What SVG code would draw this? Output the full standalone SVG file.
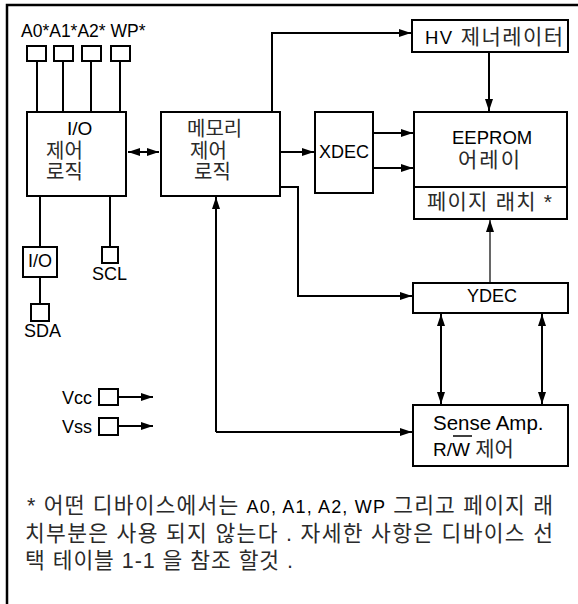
<svg xmlns="http://www.w3.org/2000/svg" width="578" height="604" viewBox="0 0 578 604">
<defs>
<style>
.box{fill:#fff;stroke:#000;stroke-width:2}
.ln{fill:none;stroke:#000;stroke-width:2}
.thin{fill:none;stroke:#000;stroke-width:1.2}
.t{font-family:"Liberation Sans","Noto Sans CJK KR",Arial,sans-serif;font-size:18px;fill:#000}
.k{font-family:"Liberation Sans","Noto Sans CJK KR",sans-serif;font-size:20px;fill:#2a2a2a}
.f{font-size:21.5px}
</style>
<marker id="ah" viewBox="0 0 12 8" refX="12" refY="4" markerWidth="12" markerHeight="8" orient="auto-start-reverse" markerUnits="userSpaceOnUse"><path d="M0,0 L12,4 L0,8 z" fill="#000"/></marker>
</defs>
<rect width="578" height="604" fill="#fff"/>
<path d="M7,604 V5 H578" fill="none" stroke="#000" stroke-width="2.5"/>

<g id="pins">
<text class="t" x="21" y="37" style="font-size:17.5px">A0*A1*A2* WP*</text>
<rect class="box" x="27" y="46" width="19" height="15"/>
<rect class="box" x="54" y="46" width="19" height="15"/>
<rect class="box" x="82" y="46" width="19" height="15"/>
<rect class="box" x="111" y="46" width="19" height="15"/>
</g>

<g id="connectors">
<path class="ln" d="M37,61 V112 M63,61 V112 M91,61 V112 M120,61 V112"/>
<path class="ln" d="M40,196 V247 M40,277 V304 M110,196 V247"/>
<path class="ln" d="M128,152 H159" marker-start="url(#ah)" marker-end="url(#ah)"/>
<path class="ln" d="M281,152 H314" marker-end="url(#ah)"/>
<path class="ln" d="M272,112 V33 H411" marker-end="url(#ah)"/>
<path class="ln" d="M489,52 V111" marker-end="url(#ah)"/>
<path class="ln" d="M373,133 H413" marker-end="url(#ah)"/>
<path class="ln" d="M373,168 H413" marker-end="url(#ah)"/>
<path class="ln" d="M281,187 H298 V296 H412" marker-end="url(#ah)"/>
<path class="thin" d="M490,283 V220" marker-end="url(#ah)"/>
<path class="ln" d="M441,314 V404" marker-start="url(#ah)" marker-end="url(#ah)"/>
<path class="ln" d="M542,314 V404" marker-start="url(#ah)" marker-end="url(#ah)"/>
<path class="ln" d="M216,432 H412" marker-end="url(#ah)"/>
<path class="ln" d="M216,432 V197" marker-end="url(#ah)"/>
<path class="ln" d="M118,397 H153" marker-end="url(#ah)"/>
<path class="ln" d="M118,426 H153" marker-end="url(#ah)"/>
</g>

<g id="io-logic">
<rect class="box" x="27" y="112" width="99" height="84"/>
<text class="t" x="67" y="135" style="font-size:19px">I/O</text>
<text class="k" x="46" y="158">제어</text>
<text class="k" x="46" y="179">로직</text>
</g>

<g id="memory-logic">
<rect class="box" x="161" y="112" width="119" height="84"/>
<text class="k" x="187" y="136">메모리</text>
<text class="k" x="190" y="158">제어</text>
<text class="k" x="194" y="179">로직</text>
</g>

<g id="hv">
<rect class="box" x="412" y="20" width="156" height="32"/>
<text class="k" x="425" y="44" style="font-size:21px" textLength="138" lengthAdjust="spacing"><tspan style="fill:#000;font-size:18.5px">HV</tspan> 제너레이터</text>
</g>

<g id="xdec">
<rect class="box" x="315" y="112" width="58" height="81"/>
<text class="t" x="319" y="158">XDEC</text>
</g>

<g id="eeprom">
<rect class="box" x="414" y="112" width="153" height="107"/>
<line class="ln" x1="414" y1="187" x2="567" y2="187"/>
<text class="t" x="452" y="144" style="font-size:18.5px">EEPROM</text>
<text class="k" x="458" y="167" style="font-size:21px" textLength="62" lengthAdjust="spacing">어레이</text>
<text class="k" x="427" y="209" style="font-size:21px" textLength="125" lengthAdjust="spacing">페이지 래치 *</text>
</g>

<g id="ydec">
<rect class="box" x="413" y="283" width="155" height="30"/>
<text class="t" x="467" y="302">YDEC</text>
</g>

<g id="sense-amp">
<rect class="box" x="413" y="405" width="155" height="61"/>
<text class="t" x="433" y="430" style="font-size:20.5px">Sense Amp.</text>
<text class="t" x="433" y="456" style="font-size:19px">R/W <tspan class="k" style="font-size:21px">제어</tspan></text>
<line x1="453" y1="436" x2="472" y2="436" stroke="#000" stroke-width="1.5"/>
</g>

<g id="io-pin">
<rect class="box" x="23" y="247" width="34" height="30"/>
<text class="t" x="40" y="267" text-anchor="middle">I/O</text>
</g>

<g id="sda">
<rect class="box" x="31" y="304" width="18" height="17"/>
<text class="t" x="24" y="337">SDA</text>
</g>

<g id="scl">
<rect class="box" x="102" y="247" width="16" height="16"/>
<text class="t" x="92" y="280">SCL</text>
</g>

<g id="vcc">
<text class="t" x="62" y="404">Vcc</text>
<rect class="box" x="99" y="389" width="19" height="16"/>
</g>
<g id="vss">
<text class="t" x="62" y="433">Vss</text>
<rect class="box" x="99" y="418" width="19" height="17"/>
</g>

<g id="footnote">
<text class="k f" x="27" y="513" textLength="526" lengthAdjust="spacing">* 어떤 디바이스에서는 <tspan style="fill:#000;font-size:18px">A0, A1, A2, WP</tspan> 그리고 페이지 래</text>
<text class="k f" x="25" y="541" textLength="528" lengthAdjust="spacing">치부분은 사용 되지 않는다 . 자세한 사항은 디바이스 선</text>
<text class="k f" x="25" y="568" textLength="268" lengthAdjust="spacing">택 테이블 1-1 을 참조 할것 .</text>
</g>
</svg>
